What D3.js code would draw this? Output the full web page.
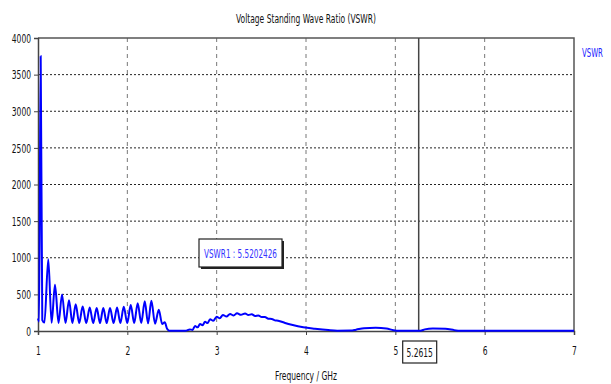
<!DOCTYPE html>
<html>
<head>
<meta charset="utf-8">
<script src="https://cdn.jsdelivr.net/npm/d3@7"></script>
<style>
	body { margin: 0; background: #fff; }
	text { font-family: "DejaVu Sans", sans-serif; fill: #111; }
</style>
</head>
<body>
<div id="chart-area"></div>
<script>

// DATA

let freqs = [1.000, 1.012, 1.030, 1.048, 1.072, 1.115, 1.152, 1.190, 1.230, 1.269,
	1.308, 1.347, 1.385, 1.422, 1.461, 1.500, 1.540, 1.579, 1.618, 1.657,
	1.694, 1.731, 1.769, 1.806, 1.846, 1.885, 1.922, 1.960, 1.999, 2.038,
	2.077, 2.116, 2.156, 2.195, 2.232, 2.269, 2.310, 2.352, 2.390, 2.419,
	2.445, 2.470, 2.650, 2.700, 2.730, 2.758, 2.786, 2.814, 2.842, 2.870,
	2.898, 2.926, 2.962, 3.000, 3.035, 3.070, 3.110, 3.150, 3.190, 3.228,
	3.272, 3.318, 3.355, 3.393, 3.430, 3.467, 3.503, 3.540, 3.578, 3.617,
	3.652, 3.688, 3.766, 3.840, 3.970, 4.100, 4.250, 4.350, 4.500, 4.560,
	4.650, 4.780, 4.900, 4.980, 5.050, 5.280, 5.330, 5.420, 5.560, 5.660,
	5.720, 7.000];

let vswr = [170, 130, 3750, 150, 115, 980, 112, 630, 110, 500,
	108, 420, 108, 365, 108, 335, 108, 320, 108, 315,
	108, 315, 108, 315, 108, 320, 108, 330, 108, 355,
	108, 380, 108, 405, 105, 412, 100, 290, 95, 120,
	30, 3, 3, 22, 15, 68, 50, 95, 78, 127,
	108, 160, 140, 195, 175, 218, 198, 232, 212, 242,
	222, 240, 218, 228, 205, 212, 190, 190, 168, 165,
	145, 140, 110, 85, 50, 30, 12, 5, 6, 18,
	38, 45, 35, 10, 3, 3, 22, 35, 30, 12,
	2, 2];

let xTicks = [1, 2, 3, 4, 5, 6, 7];
let yTicks = [0, 500, 1000, 1500, 2000, 2500, 3000, 3500, 4000];

let markerFreq = 5.2615;
let markerText = "5.2615";
let markerValue = "VSWR1 : 5.5202426";

// CHART AREA

let margin = {top: 38, right: 37, bottom: 53, left: 38},
	width = 611 - margin.left - margin.right,
	height = 384 - margin.top - margin.bottom;

let root = d3.select("#chart-area").append("svg")
	.attr("width", 611)
	.attr("height", 384);

let svg = root.append("g")
	.attr("transform", "translate(" + margin.left + "," + margin.top + ")");

// the original text is narrow, squeeze it horizontally
function squeeze(sel, k) {
	sel.each(function() {
		let w = this.getComputedTextLength();
		d3.select(this)
			.attr("textLength", w * k)
			.attr("lengthAdjust", "spacingAndGlyphs");
	});
}

//define scales
let xScale = d3.scaleLinear()
	.domain([1, 7])
	.range([0, width]);

let yScale = d3.scaleLinear()
	.domain([0, 4000])
	.range([height, 0]);

// ---- GRID ----
svg.selectAll(".hgrid")
	.data(yTicks.filter(d => d > 0 && d < 4000))
	.enter()
	.append("line")
	.attr("class", "hgrid")
	.attr("x1", 0)
	.attr("x2", width)
	.attr("y1", d => yScale(d))
	.attr("y2", d => yScale(d))
	.attr("stroke", "#222")
	.attr("stroke-width", 1)
	.attr("stroke-dasharray", "2,2");

svg.selectAll(".vgrid")
	.data(xTicks.filter(d => d > 1 && d < 7))
	.enter()
	.append("line")
	.attr("class", "vgrid")
	.attr("x1", d => xScale(d))
	.attr("x2", d => xScale(d))
	.attr("y1", 0)
	.attr("y2", height)
	.attr("stroke", "#777")
	.attr("stroke-width", 1)
	.attr("stroke-dasharray", "4,4");

// frame top / right
svg.append("path")
	.attr("d", "M0,0H" + width + "V" + height)
	.attr("fill", "none")
	.attr("stroke", "#555")
	.attr("stroke-width", 1.5);

// ---- DRAW AXIS ----
let xAxis = d3.axisBottom(xScale)
	.tickValues(xTicks)
	.tickFormat(d3.format("d"))
	.tickSize(4)
	.tickPadding(11);

let yAxis = d3.axisLeft(yScale)
	.tickValues(yTicks)
	.tickFormat(d3.format("d"))
	.tickSize(4)
	.tickPadding(3);

let xAxisGroup = svg.append("g")
	.attr("class", "x-axis axis")
	.attr("transform", "translate(0," + height + ")")
	.call(xAxis);

let yAxisGroup = svg.append("g")
	.attr("class", "y-axis axis")
	.call(yAxis);

svg.selectAll(".axis .domain").attr("stroke", "#444").attr("stroke-width", 1.5);
svg.selectAll(".axis .tick line").attr("stroke", "#444");
svg.selectAll(".axis text")
	.attr("font-family", "DejaVu Sans")
	.attr("font-size", 13)
	.attr("fill", "#111");
squeeze(svg.selectAll(".axis text"), 0.58);

// ---- MARKER LINE ----
svg.append("line")
	.attr("x1", xScale(markerFreq))
	.attr("x2", xScale(markerFreq))
	.attr("y1", 0)
	.attr("y2", height)
	.attr("stroke", "#444")
	.attr("stroke-width", 1.5);

// ---- DRAW LINE ----
let line = d3.line()
	.x((d, i) => xScale(freqs[i]))
	.y(d => yScale(d))
	.curve(d3.curveMonotoneX);

svg.append("path")
	.datum(vswr)
	.attr("fill", "none")
	.attr("stroke", "#0000ff")
	.attr("stroke-width", 2)
	.attr("d", line);

// marker frequency box
let mx = xScale(markerFreq);
svg.append("rect")
	.attr("x", mx - 16)
	.attr("y", height + 10)
	.attr("width", 34)
	.attr("height", 22)
	.attr("fill", "#fff")
	.attr("stroke", "#222")
	.attr("stroke-width", 1.2);

let mt = svg.append("text")
	.attr("x", mx + 1)
	.attr("y", height + 26)
	.attr("text-anchor", "middle")
	.attr("font-size", 13)
	.text(markerText);
squeeze(mt, 0.58);

// marker value box (with a little shadow)
root.append("rect")
	.attr("x", 201)
	.attr("y", 241)
	.attr("width", 83)
	.attr("height", 28)
	.attr("fill", "#222");
root.append("rect")
	.attr("x", 199)
	.attr("y", 239)
	.attr("width", 83)
	.attr("height", 28)
	.attr("fill", "#fff")
	.attr("stroke", "#222")
	.attr("stroke-width", 1.2);

let vt = root.append("text")
	.attr("x", 240.5)
	.attr("y", 258)
	.attr("text-anchor", "middle")
	.attr("font-size", 13)
	.style("fill", "#3333ff")
	.text(markerValue);
squeeze(vt, 0.56);

// ---- TITLES ----
let title = root.append("text")
	.attr("x", 306)
	.attr("y", 23)
	.attr("text-anchor", "middle")
	.attr("font-size", 13)
	.text("Voltage Standing Wave Ratio (VSWR)");
squeeze(title, 0.58);

let xTitle = root.append("text")
	.attr("x", 306)
	.attr("y", 380)
	.attr("text-anchor", "middle")
	.attr("font-size", 13)
	.text("Frequency / GHz");
squeeze(xTitle, 0.58);

// legend squeezed with a transform so its box stays inside the page
root.append("text")
	.attr("transform", "translate(582,57) scale(0.58,1)")
	.attr("font-size", 12)
	.style("fill", "#2222ff")
	.text("VSWR");

</script>
</body>
</html>
